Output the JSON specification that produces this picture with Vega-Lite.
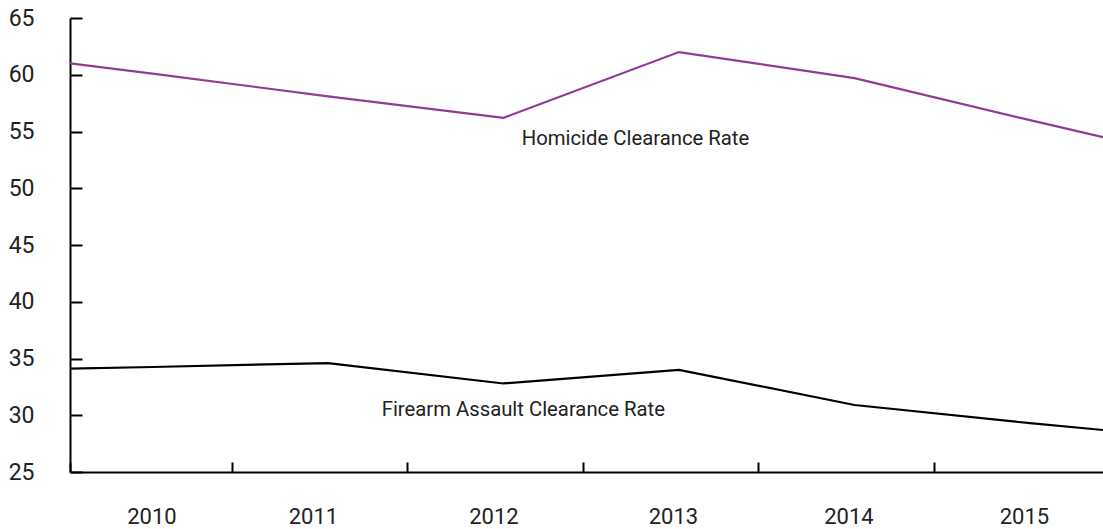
{
  "$schema": "https://vega.github.io/schema/vega-lite/v6.json",
  "width": 1033,
  "height": 454,
  "autosize": {"type": "none"},
  "padding": {"left": 70, "top": 18, "right": 0, "bottom": 57},
  "background": "white",
  "config": {
    "view": {"stroke": null},
    "font": "Roboto, Liberation Sans, sans-serif"
  },
  "datasets": {
    "rates": [
      {"series": "Homicide Clearance Rate", "year": 2009.53, "rate": 61.0},
      {"series": "Homicide Clearance Rate", "year": 2010, "rate": 60.1},
      {"series": "Homicide Clearance Rate", "year": 2011, "rate": 58.1},
      {"series": "Homicide Clearance Rate", "year": 2012, "rate": 56.2},
      {"series": "Homicide Clearance Rate", "year": 2013, "rate": 62.0},
      {"series": "Homicide Clearance Rate", "year": 2014, "rate": 59.7},
      {"series": "Homicide Clearance Rate", "year": 2015, "rate": 56.0},
      {"series": "Homicide Clearance Rate", "year": 2015.416, "rate": 54.5},
      {"series": "Firearm Assault Clearance Rate", "year": 2009.53, "rate": 34.1},
      {"series": "Firearm Assault Clearance Rate", "year": 2010, "rate": 34.25},
      {"series": "Firearm Assault Clearance Rate", "year": 2011, "rate": 34.6},
      {"series": "Firearm Assault Clearance Rate", "year": 2012, "rate": 32.8},
      {"series": "Firearm Assault Clearance Rate", "year": 2013, "rate": 34.0},
      {"series": "Firearm Assault Clearance Rate", "year": 2014, "rate": 30.9},
      {"series": "Firearm Assault Clearance Rate", "year": 2015, "rate": 29.3},
      {"series": "Firearm Assault Clearance Rate", "year": 2015.416, "rate": 28.7}
    ],
    "labels": [
      {"series": "Homicide Clearance Rate", "year": 2012.104, "rate": 53.84},
      {"series": "Firearm Assault Clearance Rate", "year": 2011.306, "rate": 29.96}
    ]
  },
  "layer": [
    {
      "data": {"name": "rates"},
      "mark": {"type": "line", "strokeWidth": 2.2, "clip": true},
      "encoding": {
        "x": {
          "field": "year",
          "type": "quantitative",
          "scale": {"domain": [2009.53, 2015.416], "nice": false, "zero": false},
          "axis": {
            "orient": "bottom",
            "values": [2009.53, 2010.453, 2011.453, 2012.453, 2013.453, 2014.453],
            "labels": false,
            "title": null,
            "grid": false,
            "ticks": true,
            "tickSize": -10,
            "tickWidth": 2,
            "tickColor": "#000000",
            "domainColor": "#000000",
            "domainWidth": 2
          }
        },
        "y": {
          "field": "rate",
          "type": "quantitative",
          "scale": {"domain": [25, 65], "nice": false, "zero": false},
          "axis": {
            "orient": "left",
            "values": [25, 30, 35, 40, 45, 50, 55, 60, 65],
            "title": null,
            "grid": false,
            "ticks": true,
            "tickSize": -12,
            "tickWidth": 2,
            "tickColor": "#000000",
            "domainColor": "#000000",
            "domainWidth": 2,
            "labelFontSize": 23,
            "labelColor": "#222222",
            "labelPadding": 48,
            "labelFlush": false,
            "labelOverlap": false
          }
        },
        "color": {
          "field": "series",
          "type": "nominal",
          "scale": {
            "domain": ["Homicide Clearance Rate", "Firearm Assault Clearance Rate"],
            "range": ["#923a96", "#000000"]
          },
          "legend": null
        }
      }
    },
    {
      "data": {"name": "labels"},
      "mark": {"type": "text", "align": "left", "baseline": "alphabetic", "fontSize": 20.3, "color": "#222222"},
      "encoding": {
        "x": {
          "field": "year",
          "type": "quantitative",
          "axis": {
            "orient": "bottom",
            "values": [2010, 2011, 2012, 2013, 2014, 2015],
            "format": "d",
            "title": null,
            "grid": false,
            "ticks": false,
            "domain": false,
            "labelFontSize": 22,
            "labelColor": "#222222",
            "labelPadding": 34,
            "labelFlush": false,
            "labelOverlap": false,
            "labelOffset": {
              "condition": [
                {"test": "datum.value == 2010", "value": -1},
                {"test": "datum.value == 2011", "value": -15},
                {"test": "datum.value == 2012", "value": -10}
              ],
              "value": -6
            }
          }
        },
        "y": {"field": "rate", "type": "quantitative"},
        "text": {"field": "series"}
      }
    }
  ],
  "resolve": {"axis": {"x": "independent"}}
}
